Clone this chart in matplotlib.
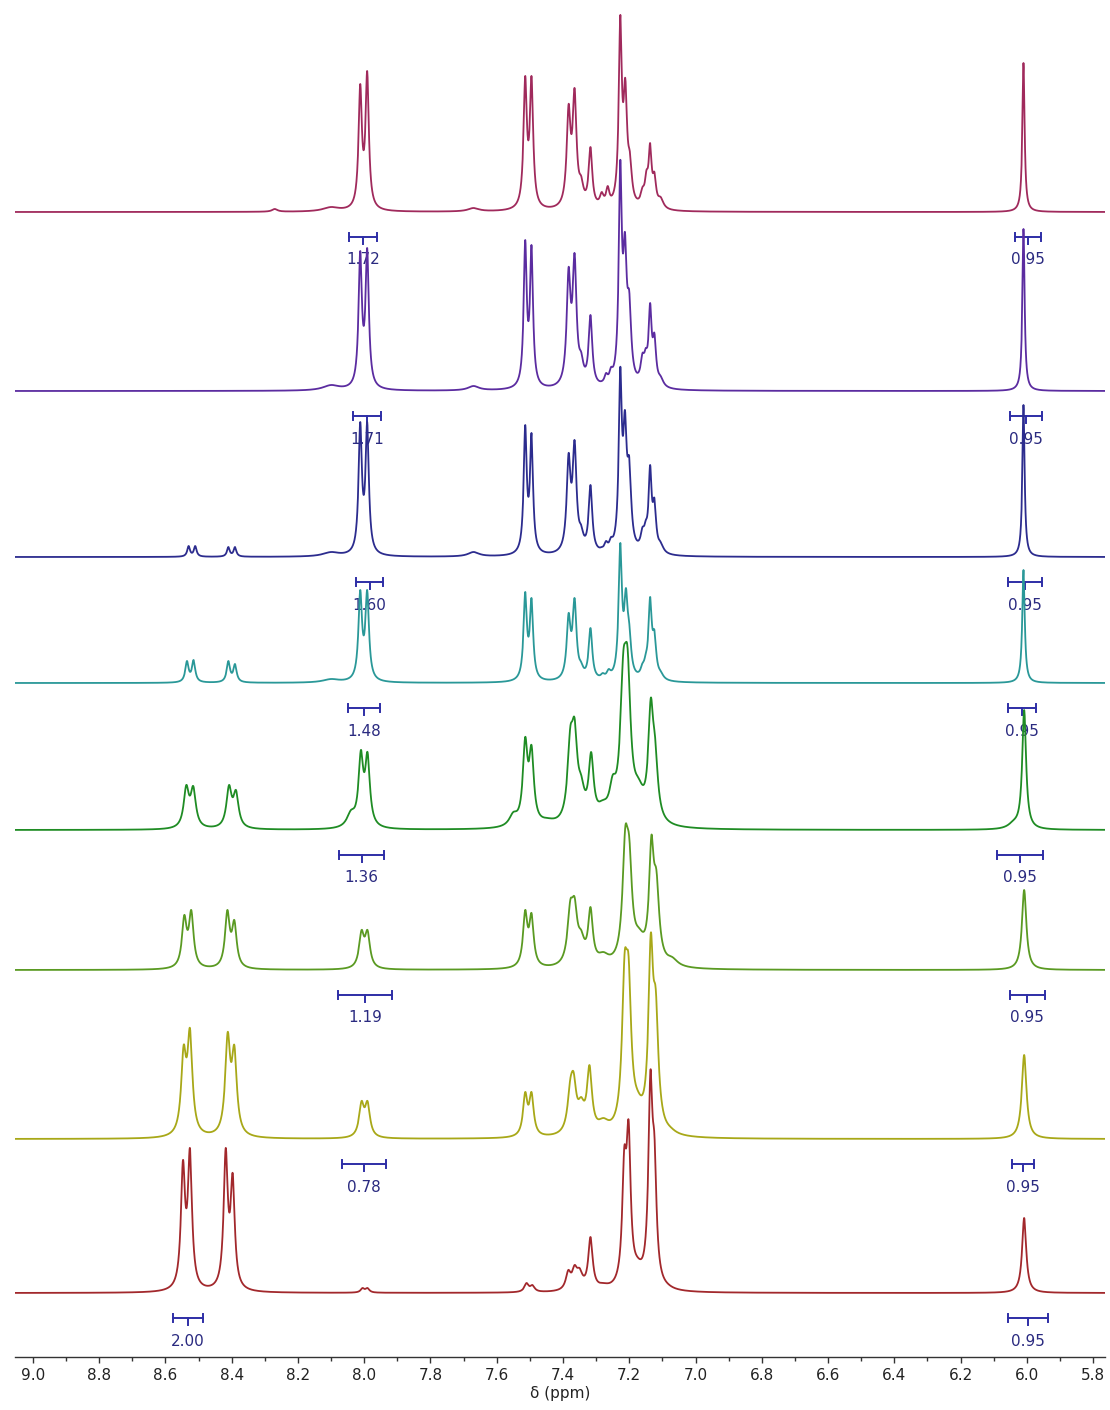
import numpy as np
import matplotlib
matplotlib.use("Agg")
import matplotlib.pyplot as plt
from matplotlib.ticker import MultipleLocator, FormatStrFormatter

# ---------------- data ----------------
# baseline of each spectrum, in pixels from top of the image
baselines_px = [212, 391, 557, 683, 830, 970, 1139, 1293]
colors = ["#a02a5c", "#5b2ca0", "#2c2c8e", "#2a9898", "#1f8c24",
          "#5a9a22", "#a8a818", "#a2282c"]

# peak tables: (ppm, height in px above baseline, half-width ppm)
peaks_1 = [(8.270, 3, 0.010), (8.100, 5, 0.030), (8.012, 128, 0.006), (7.991, 141, 0.006),
           (7.670, 4, 0.020), (7.514, 136, 0.006), (7.495, 136, 0.006),
           (7.383, 108, 0.007), (7.365, 124, 0.007), (7.345, 36, 0.008), (7.317, 65, 0.0065),
           (7.283, 20, 0.007), (7.265, 26, 0.006), (7.227, 197, 0.0055), (7.212, 134, 0.0065),
           (7.198, 60, 0.007), (7.160, 25, 0.007), (7.148, 42, 0.006), (7.137, 69, 0.0055),
           (7.124, 40, 0.006), (7.105, 15, 0.010), (6.010, 149, 0.004)]
peaks_2 = [(8.100, 6, 0.030), (8.012, 140, 0.006), (7.991, 143, 0.006), (7.670, 5, 0.020),
           (7.514, 151, 0.0055), (7.495, 146, 0.0055), (7.383, 124, 0.007), (7.365, 138, 0.007),
           (7.345, 39, 0.008), (7.317, 76, 0.0065), (7.283, 10, 0.007), (7.270, 18, 0.006),
           (7.255, 24, 0.006), (7.227, 231, 0.0055), (7.213, 159, 0.0065), (7.200, 100, 0.007),
           (7.160, 38, 0.007), (7.150, 43, 0.006), (7.137, 88, 0.0055), (7.124, 58, 0.006),
           (7.105, 15, 0.010), (6.010, 162, 0.004)]
peaks_3 = [(8.530, 11, 0.005), (8.510, 11, 0.005), (8.410, 10, 0.005), (8.390, 10, 0.005),
           (8.100, 5, 0.030), (8.012, 135, 0.006), (7.991, 135, 0.006), (7.670, 5, 0.020),
           (7.514, 132, 0.0055), (7.495, 124, 0.0055), (7.383, 104, 0.007), (7.365, 117, 0.007),
           (7.345, 32, 0.008), (7.317, 72, 0.0065), (7.283, 10, 0.007), (7.270, 16, 0.006),
           (7.255, 20, 0.006), (7.227, 190, 0.0055), (7.213, 147, 0.0065), (7.200, 100, 0.007),
           (7.160, 30, 0.007), (7.150, 37, 0.006), (7.137, 92, 0.0055), (7.124, 59, 0.006),
           (7.105, 15, 0.010), (6.010, 152, 0.004)]
peaks_4 = [(8.535, 22, 0.006), (8.515, 23, 0.006), (8.410, 22, 0.006), (8.390, 19, 0.006),
           (8.100, 4, 0.030), (8.012, 93, 0.0065), (7.991, 93, 0.0065),
           (7.514, 91, 0.006), (7.495, 85, 0.006), (7.383, 70, 0.007), (7.365, 85, 0.007),
           (7.345, 21, 0.008), (7.317, 55, 0.0065), (7.280, 10, 0.007), (7.262, 14, 0.007),
           (7.227, 140, 0.006), (7.210, 95, 0.0065), (7.200, 60, 0.007),
           (7.160, 20, 0.007), (7.150, 30, 0.006), (7.137, 86, 0.006), (7.124, 53, 0.0065),
           (7.105, 12, 0.010), (6.010, 113, 0.0045)]
peaks_5 = [(8.537, 45, 0.0095), (8.516, 44, 0.0095), (8.408, 45, 0.0095), (8.387, 40, 0.0095),
           (8.040, 20, 0.015), (8.010, 80, 0.0085), (7.990, 78, 0.0085),
           (7.550, 18, 0.015), (7.514, 93, 0.0085), (7.495, 85, 0.0085), (7.447, 12, 0.030),
           (7.378, 103, 0.010), (7.365, 112, 0.010), (7.345, 55, 0.012), (7.315, 78, 0.009),
           (7.280, 30, 0.020), (7.250, 55, 0.012), (7.218, 178, 0.011), (7.205, 182, 0.011),
           (7.172, 52, 0.020), (7.135, 132, 0.009), (7.122, 93, 0.010), (7.085, 10, 0.020),
           (6.040, 10, 0.020), (6.008, 120, 0.007)]
peaks_6 = [(8.543, 55, 0.0085), (8.522, 60, 0.0085), (8.413, 60, 0.0085), (8.392, 50, 0.0085),
           (8.008, 40, 0.009), (7.990, 40, 0.009), (7.514, 60, 0.008), (7.495, 57, 0.008),
           (7.378, 70, 0.010), (7.365, 73, 0.010), (7.345, 40, 0.012), (7.317, 63, 0.0085),
           (7.278, 18, 0.020), (7.212, 143, 0.010), (7.200, 133, 0.010), (7.170, 42, 0.020),
           (7.133, 135, 0.0085), (7.118, 100, 0.010), (7.070, 13, 0.020), (6.008, 80, 0.008)]
peaks_7 = [(8.545, 94, 0.009), (8.526, 111, 0.009), (8.412, 107, 0.009), (8.392, 94, 0.009),
           (8.008, 38, 0.009), (7.990, 38, 0.009), (7.514, 47, 0.008), (7.495, 47, 0.008),
           (7.378, 60, 0.010), (7.368, 67, 0.010), (7.345, 42, 0.012), (7.320, 74, 0.009),
           (7.278, 21, 0.020), (7.214, 186, 0.0095), (7.202, 183, 0.0095), (7.175, 49, 0.020),
           (7.135, 206, 0.0085), (7.120, 150, 0.0095), (7.075, 12, 0.020), (6.008, 84, 0.0085)]
peaks_8 = [(8.547, 133, 0.0075), (8.526, 145, 0.0075), (8.418, 145, 0.0075), (8.397, 120, 0.0075),
           (8.005, 5, 0.007), (7.990, 5, 0.007), (7.510, 10, 0.008), (7.492, 8, 0.008),
           (7.384, 23, 0.009), (7.365, 28, 0.009), (7.350, 25, 0.011), (7.317, 56, 0.008),
           (7.278, 10, 0.020), (7.215, 146, 0.0075), (7.202, 173, 0.0075), (7.175, 36, 0.020),
           (7.136, 223, 0.0075), (7.124, 158, 0.0075), (7.085, 10, 0.020), (6.008, 75, 0.0075)]
peak_tables = [peaks_1, peaks_2, peaks_3, peaks_4, peaks_5, peaks_6, peaks_7, peaks_8]

# integrals: (start ppm, end ppm, label)
integrals_a = [(8.045, 7.961, "1.72"), (8.033, 7.949, "1.71"), (8.024, 7.943, "1.60"),
               (8.048, 7.952, "1.48"), (8.076, 7.940, "1.36"), (8.079, 7.915, "1.19"),
               (8.066, 7.934, "0.78"), (8.577, 8.486, "2.00")]
integrals_b = [(6.036, 5.958, "0.95"), (6.051, 5.955, "0.95"), (6.057, 5.955, "0.95"),
               (6.057, 5.973, "0.95"), (6.091, 5.952, "0.95"), (6.051, 5.946, "0.95"),
               (6.045, 5.979, "0.95"), (6.057, 5.937, "0.95")]

ticks_major = np.arange(5.8, 9.01, 0.2)
xlabel = "δ (ppm)"

# ---------------- figure ----------------
W, H = 1110, 1410
AXIS_Y = 1357
fig = plt.figure(figsize=(W / 100, H / 100), dpi=100)
ax = fig.add_axes([15 / W, (H - AXIS_Y) / H, 1090 / W, AXIS_Y / H])
ax.set_xlim(9.054, 5.764)
ax.set_ylim(0, AXIS_Y)

x = np.linspace(5.764, 9.054, 9000)


def lor(xv, x0, g):
    return g * g / ((xv - x0) ** 2 + g * g)


def spectrum(peaks):
    pos = np.array([p[0] for p in peaks])
    hts = np.array([p[1] for p in peaks], dtype=float)
    wid = np.array([p[2] for p in peaks])
    M = lor(pos[:, None], pos[None, :], wid[None, :])
    amp = np.clip(np.linalg.solve(M, hts), 0, None)
    return (amp[None, :] * lor(x[:, None], pos[None, :], wid[None, :])).sum(axis=1)


int_color = "#2e2ea6"
for i, (bpx, col, peaks) in enumerate(zip(baselines_px, colors, peak_tables)):
    base = AXIS_Y - bpx
    y = base + spectrum(peaks)
    ax.plot(x, y, color=col, lw=1.3, zorder=5 + i, solid_joinstyle="round")
    yb = base - 25
    for (a, b, lab) in (integrals_a[i], integrals_b[i]):
        ax.plot([a, b], [yb, yb], color=int_color, lw=1.4, zorder=2)
        for e in (a, b):
            ax.plot([e, e], [yb - 4, yb + 4], color=int_color, lw=1.4, zorder=2)
        m = 0.5 * (a + b)
        ax.plot([m, m], [yb, yb - 7], color=int_color, lw=1.4, zorder=2)
        ax.text(m, yb - 23, lab, ha="center", va="center", fontsize=11,
                color="#2a2a80", family="DejaVu Sans", zorder=2)

for s in ("top", "left", "right"):
    ax.spines[s].set_visible(False)
ax.spines["bottom"].set_color("#333333")
ax.spines["bottom"].set_linewidth(1.0)
ax.set_yticks([])
ax.set_xticks(ticks_major)
ax.xaxis.set_major_formatter(FormatStrFormatter("%.1f"))
ax.xaxis.set_minor_locator(MultipleLocator(0.1))
ax.tick_params(axis="x", which="major", direction="out", length=4, width=1,
               color="#333333", labelsize=11, labelcolor="#222222", pad=4)
ax.tick_params(axis="x", which="minor", direction="out", length=3, width=1,
               color="#333333")
ax.set_xlabel(xlabel, fontsize=11, color="#222222", labelpad=2)
ax.patch.set_alpha(0)

fig.savefig("out.png", dpi=100, facecolor="white")
